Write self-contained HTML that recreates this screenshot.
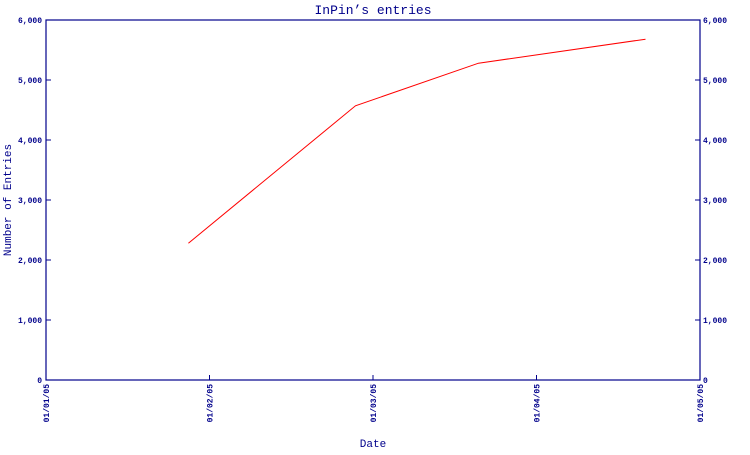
<!DOCTYPE html>
<html><head><meta charset="utf-8"><style>
body{margin:0;background:#fff;}
svg text{font-family:"Liberation Mono","DejaVu Sans Mono",monospace;fill:#00008b;}
</style></head><body>
<svg id="c" width="750" height="450" xmlns="http://www.w3.org/2000/svg">
<text x="373" y="14" text-anchor="middle" font-size="13">InPin’s entries</text>
<text x="373" y="447" text-anchor="middle" font-size="11">Date</text>
<text transform="translate(11,200) rotate(-90)" text-anchor="middle" font-size="11">Number of Entries</text>
<rect x="46" y="20" width="654" height="360" fill="none" stroke="#00008b" stroke-width="1.2"/>
<g id="ticks"></g>
<polyline id="line" fill="none" stroke="#ff0000" stroke-width="1"/>
</svg>
<script>
const xTickLabels=["01/01/05","01/02/05","01/03/05","01/04/05","01/05/05"];
const yTicks=[0,1000,2000,3000,4000,5000,6000];
const yTickLabels=["0","1,000","2,000","3,000","4,000","5,000","6,000"];
const dates=["2005-01-28","2005-02-26","2005-03-21","2005-04-21"];
const entries=[2280,4570,5280,5680];
const L=46,R=700,T=20,B=380,yMax=6000;
const ns="http://www.w3.org/2000/svg";
function xm(m){return L+(R-L)*m/4;}
function xd(s){const p=s.split("-").map(Number);const dim=new Date(p[0],p[1],0).getDate();return xm((p[1]-1)+(p[2]-1)/dim);}
function y(v){return B-(B-T)*v/yMax;}
const g=document.getElementById("ticks");
function mk(tag,a){const e=document.createElementNS(ns,tag);for(const k in a)e.setAttribute(k,a[k]);g.appendChild(e);return e;}
yTicks.forEach((v,i)=>{
 const yy=y(v);
 let t=mk("line",{x1:L,x2:L+5,y1:yy,y2:yy,stroke:"#00008b"});
 
 
 t=mk("line",{x1:R-5,x2:R,y1:yy,y2:yy,stroke:"#00008b"});
 
 
 let l=mk("text",{x:L-4,y:yy+3,"text-anchor":"end","font-size":"8","font-weight":"bold"});
 l.textContent=yTickLabels[i];
 
 
 l=mk("text",{x:R+3,y:yy+3,"text-anchor":"start","font-size":"8","font-weight":"bold"});
 l.textContent=yTickLabels[i];
 
 
});
xTickLabels.forEach((s,i)=>{
 const xx=xm(i);
 const t=mk("line",{x1:xx,x2:xx,y1:B-5,y2:B,stroke:"#00008b"});
 
 
 const l=mk("text",{transform:`translate(${xx+3},${B+4}) rotate(-90)`,"text-anchor":"end","font-size":"8","font-weight":"bold"});
 l.textContent=s;
 
 
});
document.getElementById("line").setAttribute("points",dates.map((d,i)=>xd(d)+","+y(entries[i])).join(" "));
</script>
</body></html>
